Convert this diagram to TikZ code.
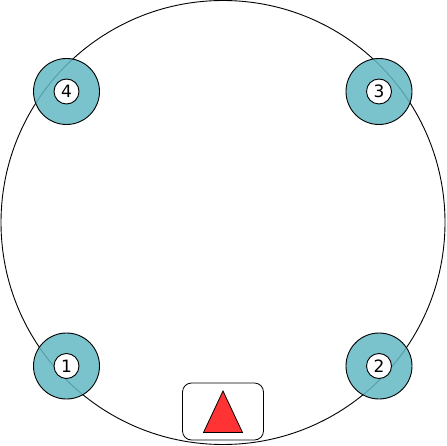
\documentclass[tikz,border=0pt]{standalone}
\usepackage{fontspec}
\setmainfont{DejaVu Sans}
\definecolor{tealfill}{RGB}{99,184,196}
\definecolor{redfill}{RGB}{255,51,51}
\begin{document}
\begin{tikzpicture}[x=1pt,y=-1pt,
  outer/.style={circle,draw=black,line width=0.9pt,fill=tealfill,fill opacity=0.85,minimum size=66pt,inner sep=0pt},
  inner/.style={circle,draw=black,line width=0.9pt,fill=white,minimum size=25pt,inner sep=0pt,font=\fontsize{17}{17}\selectfont},
  box/.style={draw=black,line width=0.8pt,rounded corners=9pt,fill=white,minimum width=81pt,minimum height=57pt,inner sep=0pt}]
\useasboundingbox (0,0) rectangle (446,446);
\draw[line width=0.9pt] (223,222.5) circle[radius=222];
\node[outer] (o4) at (66.5,91.5) {};
\node[outer] (o3) at (379,91.5) {};
\node[outer] (o1) at (66.5,366) {};
\node[outer] (o2) at (379,366) {};
\node[inner] (n4) at (o4) {4};
\node[inner] (n3) at (o3) {3};
\node[inner] (n1) at (o1) {1};
\node[inner] (n2) at (o2) {2};
\node[box] (b) at (223,411.5) {};
\draw[line width=0.8pt,fill=redfill] (223,391) -- (242.5,432.5) -- (203.5,432.5) -- cycle;
\end{tikzpicture}
\end{document}
